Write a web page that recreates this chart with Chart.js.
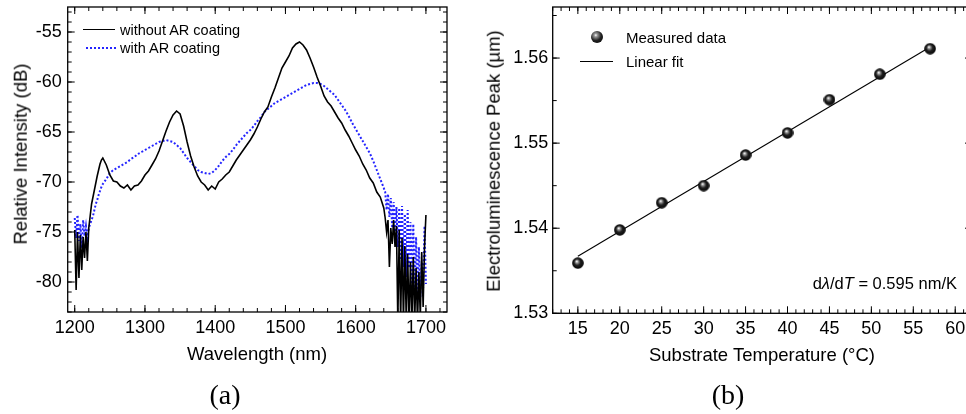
<!DOCTYPE html>
<html>
<head>
<meta charset="utf-8">
<script src="https://cdn.jsdelivr.net/npm/chart.js@4.4.1/dist/chart.umd.min.js"></script>
<style>
body { margin: 0; width: 966px; height: 414px; overflow: hidden; background: #fff; position: relative;
       font-family: "Liberation Sans", Arial, sans-serif; color: #000; }
canvas { position: absolute; top: 0; }
#chartA { left: 0; }
#chartB { left: 480px; }
.t { position: absolute; white-space: nowrap; line-height: 1; }
.c { transform: translate(-50%, -50%); }
.l { transform: translate(0, -50%); }
.r { transform: translate(-100%, -50%); }
.v { transform: translate(-50%, -50%) rotate(-90deg); }
.panel { font-family: "Liberation Serif", "DejaVu Serif", serif; font-size: 28px; }
</style>
</head>
<body>
<canvas id="chartA" width="480" height="414"></canvas>
<canvas id="chartB" width="500" height="414"></canvas>

<!-- panel (a) texts -->
<div style="position:absolute;left:83px;top:29px;width:32px;border-top:1.6px solid #000"></div>
<div class="t l" style="left:120px;top:30px;font-size:14.5px">without AR coating</div>
<div style="position:absolute;left:86px;top:47px;width:31px;height:2px;background:repeating-linear-gradient(90deg,#2424ff 0 2px,transparent 2px 4px)"></div>
<div class="t l" style="left:120px;top:48px;font-size:14.5px">with AR coating</div>
<div class="t c" style="left:257px;top:354px;font-size:18.5px">Wavelength (nm)</div>
<div class="t v" style="left:21px;top:154px;font-size:18.5px">Relative Intensity (dB)</div>
<div class="t c panel" style="left:225px;top:395px">(a)</div>

<!-- panel (b) texts -->
<div style="position:absolute;left:591px;top:31px;width:12px;height:12px;border-radius:50%;background:radial-gradient(circle at 40% 35%,#fff 0,#999 15%,#222 50%,#000 100%)"></div>
<div class="t l" style="left:626px;top:37px;font-size:15px">Measured data</div>
<div style="position:absolute;left:580px;top:60.5px;width:33px;border-top:1.1px solid #000"></div>
<div class="t l" style="left:626px;top:61px;font-size:15px">Linear fit</div>
<div class="t r" style="left:957px;top:283px;font-size:16.5px">d<i>λ</i>/d<i>T</i> = 0.595 nm/K</div>
<div class="t c" style="left:762px;top:355px;font-size:18.5px">Substrate Temperature (°C)</div>
<div class="t v" style="left:494px;top:161px;font-size:18.5px">Electroluminescence Peak (µm)</div>
<div class="t c panel" style="left:728px;top:395px">(b)</div>

<script>
// (a) spectra
const wavelength = [
  1200, 1202, 1204, 1206, 1208, 1210, 1212, 1214, 1216, 1218, 1220, 1222, 1224, 1226, 1228, 1230, 1232, 1234, 1236, 1238, 1240,
  1245, 1250, 1255, 1260, 1265, 1270, 1275, 1280, 1285, 1290, 1295,
  1300, 1305, 1310, 1315, 1320, 1325, 1330, 1335, 1340, 1345, 1350, 1355, 1360, 1365, 1370, 1375, 1380, 1385, 1390, 1395,
  1400, 1405, 1410, 1415, 1420, 1425, 1430, 1435, 1440, 1445, 1450, 1455, 1460, 1465, 1470, 1475, 1480, 1485, 1490, 1495,
  1500, 1505, 1510, 1515, 1520, 1525, 1530, 1535, 1540, 1545, 1550, 1555, 1560, 1565, 1570, 1575, 1580, 1585, 1590, 1595,
  1600, 1605, 1610, 1615, 1620, 1625, 1630, 1635, 1640,
  1642, 1644, 1646, 1648, 1650, 1652, 1654, 1656, 1658, 1660, 1662, 1664, 1666, 1668, 1670,
  1672, 1674, 1676, 1678, 1680, 1682, 1684, 1686, 1688, 1690, 1692, 1694, 1696, 1698, 1700
];
const withoutAR = [
  -74.8, -80.8, -75.0, -79.6, -75.3, -78.8, -75.5, -77.6, -75.0, -77.9, -74.6, -73.4, -72.2, -71.5, -70.8, -70.1, -69.4, -68.8, -68.2, -67.8, -67.6,
  -68.3, -69.3, -69.9, -70.0, -70.4, -70.6, -70.3, -70.8, -70.4, -70.3, -69.9,
  -69.3, -68.9, -68.3, -67.7, -66.9, -65.9, -64.9, -64.0, -63.3, -62.9, -63.2, -64.4, -66.0, -67.4, -68.5, -69.4, -70.0, -70.3, -70.8, -70.4,
  -70.7, -70.0, -69.7, -69.3, -69.0, -68.4, -67.8, -67.3, -66.8, -66.3, -65.8, -65.2, -64.5, -63.7, -63.0, -62.5, -61.5, -60.6, -59.6, -58.6,
  -58.0, -57.4, -56.6, -56.2, -56.0, -56.3, -56.8, -57.6, -58.5, -59.5, -60.4, -61.4, -62.0, -62.4, -63.0, -63.6, -64.1, -64.8, -65.4, -66.1,
  -66.8, -67.4, -68.2, -68.8, -69.6, -70.1, -71.0, -71.5, -72.6,
  -73.6, -75.0, -73.8, -78.5, -74.6, -76.2, -73.8, -76.5, -74.4, -84.0, -74.8, -84.0, -75.6, -84.0, -76.4,
  -84.0, -77.2, -84.0, -78.0, -84.0, -77.5, -84.0, -78.6, -84.0, -79.0, -83.5, -77.0, -82.5, -76.5, -73.3
];
const withAR = [
  -73.6, -75.6, -73.3, -75.9, -74.2, -76.6, -73.8, -75.4, -74.4, -75.6, -74.6, -74.2, -73.8, -73.4, -72.8, -72.2, -71.8, -71.3, -70.9, -70.5, -70.2,
  -69.7, -69.1, -68.8, -68.6, -68.4, -68.2, -68.0, -67.7, -67.5, -67.2, -67.0,
  -66.8, -66.6, -66.4, -66.2, -66.0, -65.9, -65.8, -65.9, -66.0, -66.3, -66.6, -67.1, -67.6, -68.0, -68.4, -68.8, -69.0, -69.1, -69.2, -69.1,
  -68.8, -68.4, -67.9, -67.5, -67.2, -66.8, -66.3, -65.9, -65.5, -65.1, -64.8, -64.4, -63.9, -63.5, -63.0, -62.7, -62.4, -62.1, -61.9, -61.7,
  -61.5, -61.3, -61.1, -60.9, -60.7, -60.5, -60.3, -60.2, -60.1, -60.1, -60.2, -60.4, -60.7, -61.0, -61.3, -61.8, -62.3, -62.8, -63.4, -64.1,
  -64.7, -65.3, -65.9, -66.5, -67.1, -67.9, -68.8, -69.7, -70.6,
  -71.0, -72.8, -71.2, -73.5, -71.6, -74.6, -72.0, -75.2, -72.5, -76.5, -72.6, -77.8, -72.4, -78.5, -73.2,
  -79.5, -72.8, -78.6, -74.0, -80.4, -74.2, -80.8, -75.5, -81.8, -76.5, -81.5, -78.0, -80.6, -74.4, -80.2
];
const xTicksA = [1200, 1300, 1400, 1500, 1600, 1700];
const yTicksA = [-80, -75, -70, -65, -60, -55];

// (b) peak vs temperature
const temperature = [15, 20, 25, 30, 35, 40, 45, 51, 57];
const peak = [1.5359, 1.5398, 1.5430, 1.5450, 1.5486, 1.5512, 1.5551, 1.5581, 1.5611];
const fitT = [15, 57];
const fitPeak = [1.5367, 1.5613];
const xTicksB = [15, 20, 25, 30, 35, 40, 45, 50, 55, 60];
const yTicksB = [1.53, 1.54, 1.55, 1.56];

const FONT = '"Liberation Sans", Arial, sans-serif';

function range(a, b, step) {
  const out = [];
  for (let v = a; v <= b + 1e-9; v += step) out.push(+v.toFixed(4));
  return out;
}

// frame + inward tick marks
const frameTicks = {
  id: 'frameTicks',
  afterDatasetsDraw(chart, args, o) {
    const { ctx, chartArea: a } = chart;
    const sx = chart.scales.x, sy = chart.scales.y;
    ctx.save();
    ctx.strokeStyle = '#000';
    ctx.lineWidth = 1;
    ctx.beginPath();
    const xt = (vals, len, top) => vals.forEach(v => {
      const p = sx.getPixelForValue(v);
      ctx.moveTo(p, a.bottom); ctx.lineTo(p, a.bottom - len);
      if (top) { ctx.moveTo(p, a.top); ctx.lineTo(p, a.top + len); }
    });
    const yt = (vals, len, right) => vals.forEach(v => {
      const p = sy.getPixelForValue(v);
      ctx.moveTo(a.left, p); ctx.lineTo(a.left + len, p);
      if (right) { ctx.moveTo(a.right, p); ctx.lineTo(a.right - len, p); }
    });
    xt(o.xMinor, 4, true);
    xt(o.xMajor, 7, true);
    yt(o.yMinor, 4, o.rightMinor);
    yt(o.yMajor, 7, true);
    ctx.stroke();
    ctx.lineWidth = 1.3;
    ctx.strokeRect(a.left, a.top, a.right - a.left, a.bottom - a.top);
    ctx.restore();
  }
};

function axis(min, max, ticks, fmt, pad, size) {
  return {
    type: 'linear', min: min, max: max,
    afterBuildTicks: s => { s.ticks = ticks.map(v => ({ value: v })); },
    afterFit: s => {
      if (s.isHorizontal()) s.height = size; else s.width = size;
      s.paddingTop = s.paddingBottom = s.paddingLeft = s.paddingRight = 0;
    },
    grid: { display: false, drawTicks: false },
    border: { display: false },
    ticks: { color: '#000', font: { family: FONT, size: 18 }, padding: pad, maxRotation: 0, autoSkip: false, callback: fmt }
  };
}

new Chart(document.getElementById('chartA'), {
  type: 'line',
  data: {
    datasets: [{
      label: 'without AR coating',
      data: wavelength.map((w, i) => ({ x: w, y: withoutAR[i] })),
      borderColor: '#000',
      borderWidth: 1.6,
      pointRadius: 0,
      tension: 0
    }, {
      label: 'with AR coating',
      data: wavelength.map((w, i) => ({ x: w, y: withAR[i] })),
      borderColor: '#2424ff',
      borderWidth: 2,
      borderDash: [2, 2],
      pointRadius: 0,
      tension: 0
    }]
  },
  options: {
    responsive: false, animation: false, devicePixelRatio: 1,
    layout: { padding: { left: 0, top: 7, right: 33, bottom: 52 } },
    plugins: {
      legend: { display: false },
      tooltip: { enabled: false },
      frameTicks: { xMinor: range(1200, 1720, 20), xMajor: xTicksA, yMinor: range(-83, -53, 1), yMajor: yTicksA, rightMinor: true }
    },
    scales: {
      x: axis(1190, 1730, xTicksA, v => String(v), 5, 50),
      y: axis(-83, -52.5, yTicksA, v => String(v), 6, 67.7)
    }
  },
  plugins: [frameTicks]
});

// shaded sphere marker
const sphere = document.createElement('canvas');
sphere.width = sphere.height = 12;
const g = sphere.getContext('2d');
const grad = g.createRadialGradient(4.8, 4.2, 0.3, 6, 6, 6);
grad.addColorStop(0, '#ffffff');
grad.addColorStop(0.18, '#9a9a9a');
grad.addColorStop(0.5, '#222');
grad.addColorStop(1, '#000');
g.fillStyle = grad;
g.beginPath(); g.arc(6, 6, 5.8, 0, Math.PI * 2); g.fill();

new Chart(document.getElementById('chartB'), {
  type: 'scatter',
  data: {
    datasets: [{
      label: 'Measured data',
      data: temperature.map((t, i) => ({ x: t, y: peak[i] })),
      pointStyle: sphere,
      pointRadius: 6,
      order: 0
    }, {
      label: 'Linear fit',
      data: fitT.map((t, i) => ({ x: t, y: fitPeak[i] })),
      showLine: true,
      borderColor: '#000',
      borderWidth: 1.1,
      pointRadius: 0,
      order: 1
    }]
  },
  options: {
    responsive: false, animation: false, devicePixelRatio: 1,
    layout: { padding: { left: 0, top: 5, right: 8, bottom: 50.7 } },
    plugins: {
      legend: { display: false },
      tooltip: { enabled: false },
      frameTicks: { xMinor: range(12, 62, 1), xMajor: xTicksB, yMinor: range(1.53, 1.565, 0.005), yMajor: yTicksB, rightMinor: false }
    },
    scales: {
      x: axis(12, 62, xTicksB, v => String(v), 5, 50),
      y: axis(1.53, 1.566, yTicksB, v => v.toFixed(2), 4.4, 72.7)
    }
  },
  plugins: [frameTicks]
});
</script>
</body>
</html>
